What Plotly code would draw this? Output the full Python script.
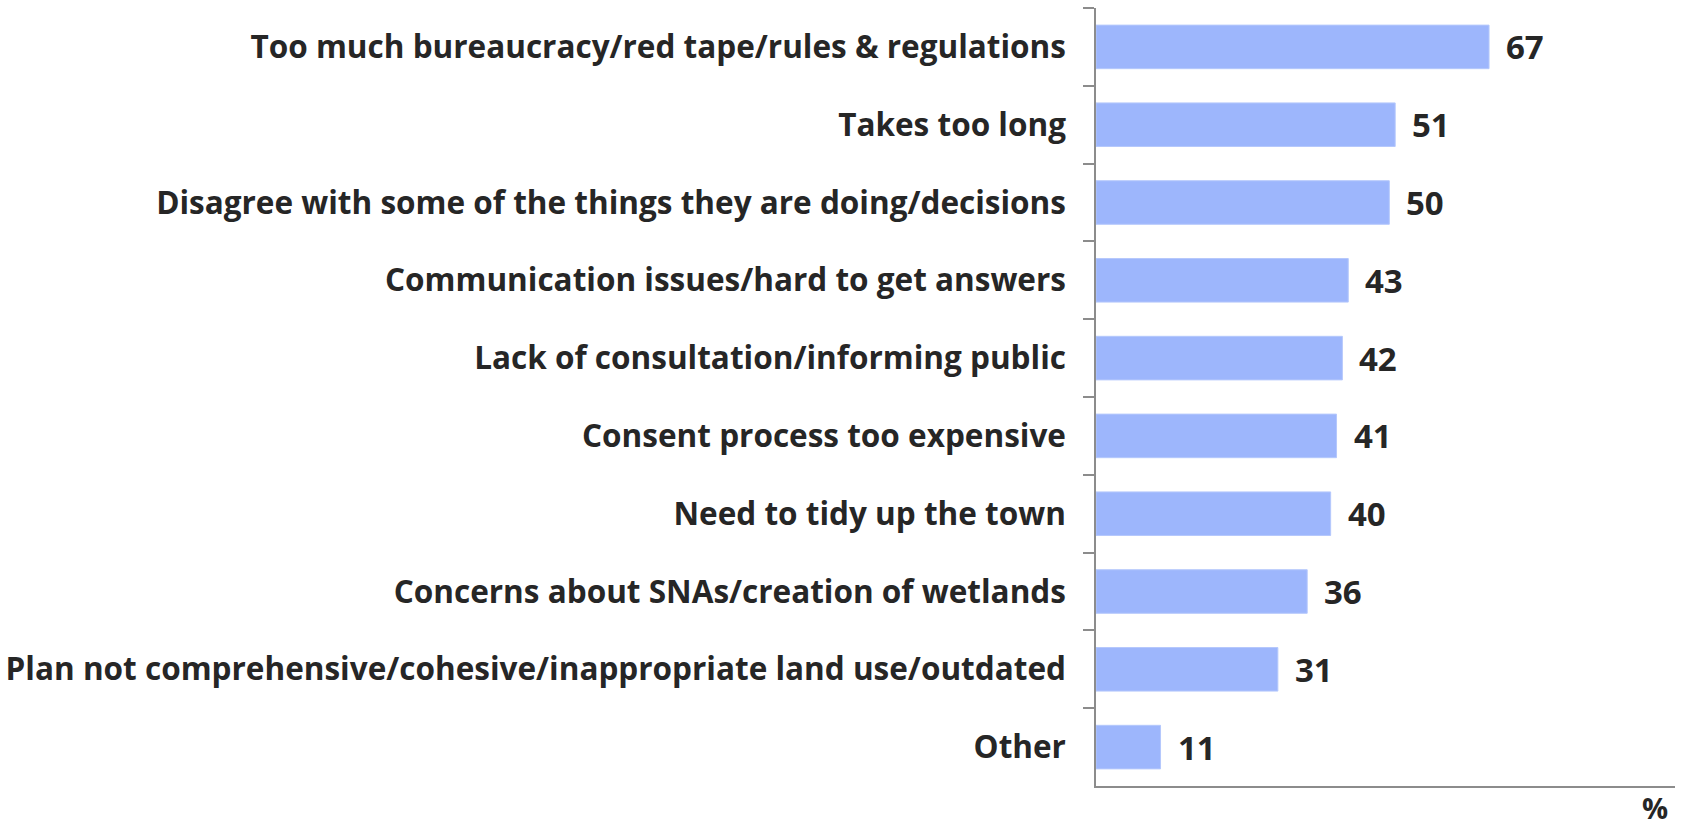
import plotly.graph_objects as go

categories = [
    "Too much bureaucracy/red tape/rules & regulations",
    "Takes too long",
    "Disagree with some of the things they are doing/decisions",
    "Communication issues/hard to get answers",
    "Lack of consultation/informing public",
    "Consent process too expensive",
    "Need to tidy up the town",
    "Concerns about SNAs/creation of wetlands",
    "Plan not comprehensive/cohesive/inappropriate land use/outdated",
    "Other",
]
values = [67, 51, 50, 43, 42, 41, 40, 36, 31, 11]

FONT = "'Open Sans', Lato, sans-serif"
TXT = "#262626"

fig = go.Figure(
    go.Bar(
        x=values,
        y=categories,
        orientation="h",
        width=0.56,
        marker=dict(color="#9DB6FC", line=dict(color="#B5C8FC", width=1)),
        hoverinfo="x+y",
    )
)

for c, v in zip(categories, values):
    fig.add_annotation(
        x=v, y=c, xref="x", yref="y",
        text=str(v), showarrow=False,
        xanchor="left", yanchor="middle", xshift=15,
        font=dict(family=FONT, size=33, color=TXT, weight="bold"),
    )

fig.update_layout(
    width=1681,
    height=827,
    margin=dict(l=1096, r=6, t=8, b=41, autoexpand=False),
    paper_bgcolor="white",
    plot_bgcolor="white",
    showlegend=False,
    bargap=0.44,
    font=dict(family=FONT, color=TXT),
)
fig.update_yaxes(
    categoryorder="array",
    categoryarray=categories,
    autorange="reversed",
    automargin=False,
    tickson="boundaries",
    ticks="outside",
    ticklen=11,
    tickcolor="#8C8C8C",
    tickwidth=1.5,
    showline=True,
    linecolor="#8C8C8C",
    linewidth=1.5,
    showgrid=False,
    ticklabelstandoff=22,
    tickfont=dict(family=FONT, size=31.5, color=TXT, weight="bold"),
)
fig.update_xaxes(
    range=[0, 98.7],
    showticklabels=False,
    showgrid=False,
    zeroline=False,
    showline=True,
    linecolor="#8C8C8C",
    linewidth=1.5,
    ticks="",
)
fig.add_annotation(
    text="%",
    x=1, xref="paper", xanchor="center", xshift=-20,
    y=0, yref="paper", yanchor="middle", yshift=-21,
    showarrow=False,
    font=dict(family=FONT, size=29, color=TXT, weight="bold"),
)

fig.write_html(
    "out.html",
    config={"displayModeBar": False},
    post_script="document.body.style.margin='0';document.body.style.overflow='hidden';",
)
